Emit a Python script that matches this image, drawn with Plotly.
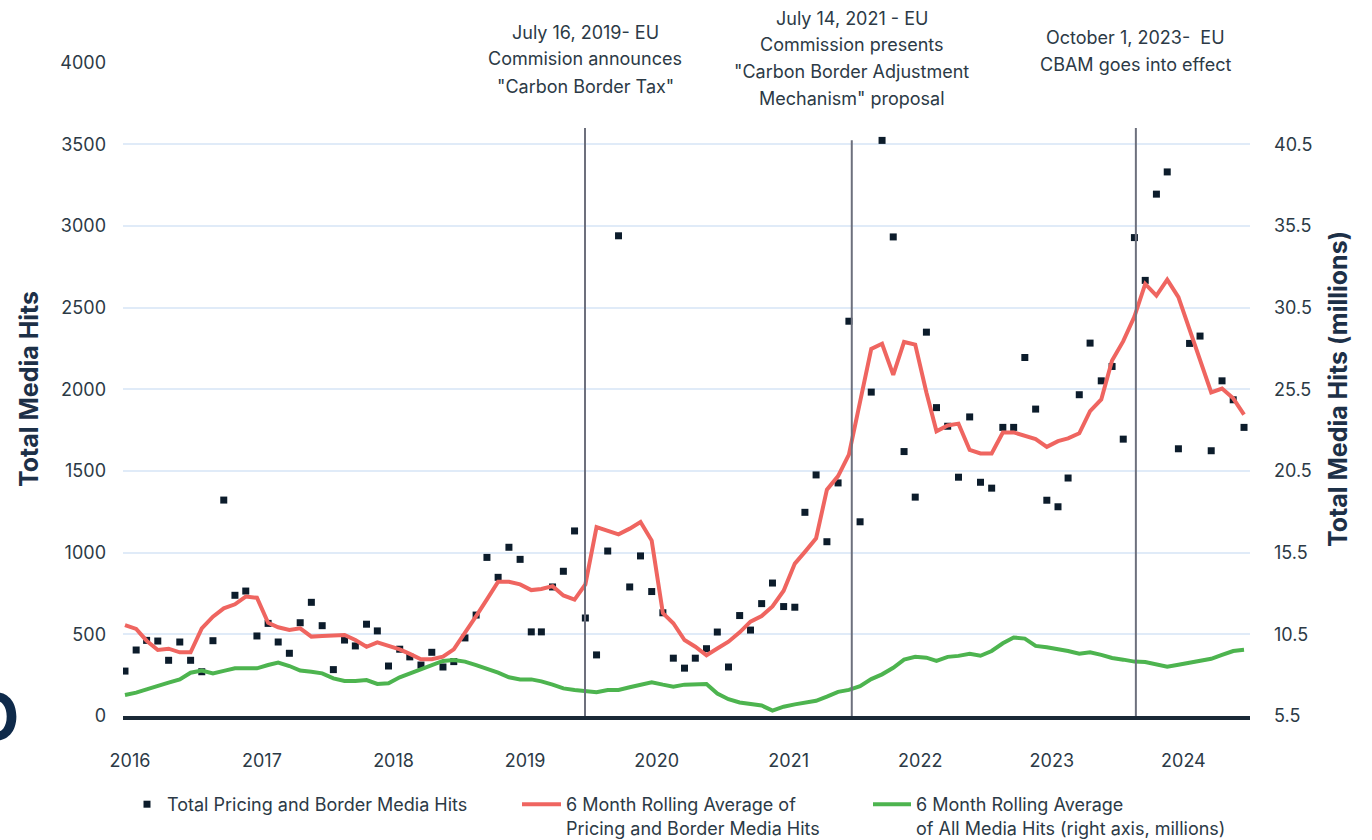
import plotly.graph_objects as go
import pandas as pd

# ---------------- data ----------------
months = pd.date_range("2016-01-01", "2024-07-01", freq="MS")

pricing_border_hits = [
    275, 404, 463, 459, 341, 453, 341, 271, 461, 1322, 739, 765,
    490, 567, 453, 384, 571, 696, 553, 284, 465, 429, 562, 521,
    306, 409, 362, 312, 390, 300, 333, 478, 618, 971, 849, 1033,
    959, 515, 515, 790, 886, 1133, 600, 374, 1010, 2940, 790, 980,
    762, 632, 354, 293, 354, 412, 514, 300, 615, 526, 688, 814,
    670, 666, 1247, 1476, 1067, 1427, 2417, 1189, 1983, 3524, 2933, 1619,
    1340, 2350, 1888, 1774, 1462, 1831, 1431, 1395, 1767, 1767, 2195, 1879,
    1321, 1281, 1457, 1967, 2283, 2052, 2140, 1695, 2929, 2667, 3195, 3331,
    1636, 2281, 2326, 1624, 2052, 1936, 1767,
]

rolling_pricing_border = [
    557, 533, 461, 404, 412, 390, 390, 537, 608, 659, 684, 731,
    724, 571, 543, 527, 537, 486, 490, 496, 496, 465, 424, 451,
    429, 408, 380, 347, 347, 363, 408, 506, 612, 714, 822, 822,
    806, 771, 778, 795, 738, 713, 806, 1157, 1136, 1112, 1147, 1188,
    1074, 630, 568, 465, 424, 372, 413, 455, 512, 578, 612, 671,
    767, 933, 1005, 1088, 1386, 1469, 1600, 1933, 2248, 2279, 2088, 2290,
    2274, 1981, 1743, 1779, 1790, 1629, 1607, 1607, 1736, 1736, 1714, 1695,
    1648, 1683, 1700, 1731, 1867, 1938, 2176, 2295, 2445, 2645, 2574, 2671,
    2564, 2362, 2171, 1981, 2005, 1945, 1845,
]

rolling_all_media_millions = [
    6.79, 6.93, 7.13, 7.36, 7.54, 7.74, 8.15, 8.28, 8.11, 8.26, 8.42, 8.42,
    8.42, 8.62, 8.77, 8.56, 8.28, 8.21, 8.11, 7.80, 7.64, 7.64, 7.70, 7.46,
    7.50, 7.87, 8.11, 8.36, 8.62, 8.87, 8.93, 8.83, 8.62, 8.42, 8.15, 7.87,
    7.74, 7.74, 7.62, 7.42, 7.19, 7.09, 7.05, 6.95, 7.09, 7.09, 7.26, 7.42,
    7.57, 7.42, 7.30, 7.42, 7.46, 7.46, 6.88, 6.53, 6.33, 6.25, 6.14, 5.83,
    6.07, 6.21, 6.33, 6.43, 6.69, 6.98, 7.10, 7.33, 7.76, 8.05, 8.45, 8.95,
    9.12, 9.07, 8.88, 9.12, 9.18, 9.31, 9.19, 9.48, 9.95, 10.31, 10.24, 9.79,
    9.71, 9.60, 9.48, 9.31, 9.40, 9.24, 9.05, 8.95, 8.83, 8.81, 8.66, 8.52,
    8.64, 8.76, 8.88, 9.00, 9.24, 9.48, 9.55,
]

year_ticks = ["2016", "2017", "2018", "2019", "2020", "2021", "2022", "2023", "2024"]
left_ticks = [0, 500, 1000, 1500, 2000, 2500, 3000, 3500, 4000]
right_ticks = [5.5, 10.5, 15.5, 20.5, 25.5, 30.5, 35.5, 40.5]

event_dates = ["2019-06-30", "2021-07-09", "2023-09-05"]
event_tops = [3600, 3525, 3600]
event_labels = [
    ["July 16, 2019- EU", "Commision announces", "\"Carbon Border Tax\""],
    ["July 14, 2021 - EU", "Commission presents", "\"Carbon Border Adjustment", "Mechanism\" proposal"],
    ["October 1, 2023-  EU", "CBAM goes into effect"],
]
event_label_tops = [32, 18, 37]  # first-line centre, px from top

# ---------------- style ----------------
FONT = "Inter, Lato, sans-serif"
TXT = "#2c3a46"
NAVY = "#1d3047"
RED = "#ef6560"
GREEN = "#4db44f"
DOT = "#0c1c2b"
GRID = "#e0ebf8"

W, H = 1372, 840
ML, MR, MT, MB = 123, 122, 62, 124
PH = H - MT - MB


def py_to_paper(py):
    return (H - MB - py) / PH


def px_to_paper(px):
    return (px - ML) / (W - ML - MR)


fig = go.Figure()

fig.add_trace(go.Scatter(
    x=months, y=pricing_border_hits, mode="markers",
    name="Total Pricing and Border Media Hits",
    marker=dict(symbol="square", size=7, color=DOT),
    legend="legend",
))
fig.add_trace(go.Scatter(
    x=months, y=rolling_pricing_border, mode="lines",
    name="6 Month Rolling Average of<br>Pricing and Border Media Hits",
    line=dict(color=RED, width=4),
    legend="legend2",
))
fig.add_trace(go.Scatter(
    x=months, y=rolling_all_media_millions, mode="lines",
    name="6 Month Rolling Average<br>of All Media Hits (right axis, millions)",
    line=dict(color=GREEN, width=4),
    yaxis="y2",
    legend="legend3",
))

# event lines
for d, top in zip(event_dates, event_tops):
    fig.add_shape(type="line", xref="x", yref="y", x0=d, x1=d, y0=0, y1=top,
                  line=dict(color="#6d707d", width=2), layer="above")

# event annotations, one per line for spacing
for d, lines, top in zip(event_dates, event_labels, event_label_tops):
    for k, t in enumerate(lines):
        fig.add_annotation(x=d, xref="x", y=py_to_paper(top + 27 * k), yref="paper",
                           text=t, showarrow=False, xanchor="center", yanchor="middle",
                           font=dict(family=FONT, size=18, color=TXT))

# clipped glyph at the left edge of the source image
fig.add_annotation(x=px_to_paper(21), xref="paper", y=py_to_paper(716), yref="paper",
                   text="<b>O</b>", showarrow=False, xanchor="right", yanchor="middle",
                   font=dict(family=FONT, size=64, color="#0f2a4a"))

leg_font = dict(family=FONT, size=18, color=TXT)
leg_common = dict(orientation="h", xanchor="left", yanchor="top", bgcolor="rgba(0,0,0,0)",
                  font=leg_font, valign="top", borderwidth=0)

fig.update_layout(
    width=W, height=H,
    margin=dict(l=ML, r=MR, t=MT, b=MB, autoexpand=False),
    paper_bgcolor="white", plot_bgcolor="white",
    font=dict(family=FONT, color=TXT),
    xaxis=dict(
        type="date",
        range=["2015-12-26 12:00", "2024-07-17 14:00"],
        tickvals=[f"{y}-01-01" for y in year_ticks],
        ticktext=year_ticks,
        ticklabelshift=5,
        ticklabelstandoff=26,
        showgrid=False, zeroline=False,
        showline=True, linecolor="#1a2936", linewidth=3.5,
        ticks="", automargin=False,
        tickfont=dict(family=FONT, size=18, color=TXT),
    ),
    yaxis=dict(
        range=[0, 4004],
        tickvals=left_ticks,
        showgrid=True, gridcolor=GRID, gridwidth=1.5,
        zeroline=False, showline=False, ticks="",
        ticklabelstandoff=16, automargin=False,
        tickfont=dict(family=FONT, size=18, color=TXT),
        title=dict(text="<b>Total Media Hits</b>", standoff=14,
                   font=dict(family=FONT, size=25, color=NAVY)),
    ),
    yaxis2=dict(
        overlaying="y", side="right",
        range=[5.5, 45.54],
        tickvals=right_ticks,
        ticktext=[f"{v:.1f}" for v in right_ticks],
        showgrid=False, zeroline=False, showline=False, ticks="",
        ticklabelstandoff=23, automargin=False,
        tickfont=dict(family=FONT, size=18, color=TXT),
        title=dict(text="<b>Total Media Hits (millions)</b>", standoff=18,
                   font=dict(family=FONT, size=25, color=NAVY)),
    ),
    legend=dict(x=px_to_paper(127), y=py_to_paper(786), **leg_common),
    legend2=dict(x=px_to_paper(517), y=py_to_paper(786), itemwidth=39, **leg_common),
    legend3=dict(x=px_to_paper(868), y=py_to_paper(786), itemwidth=38, **leg_common),
    showlegend=True,
)

fig.write_html(
    "out.html",
    config={"displayModeBar": False},
    post_script="document.body.style.margin='0';document.body.style.padding='0';",
)
